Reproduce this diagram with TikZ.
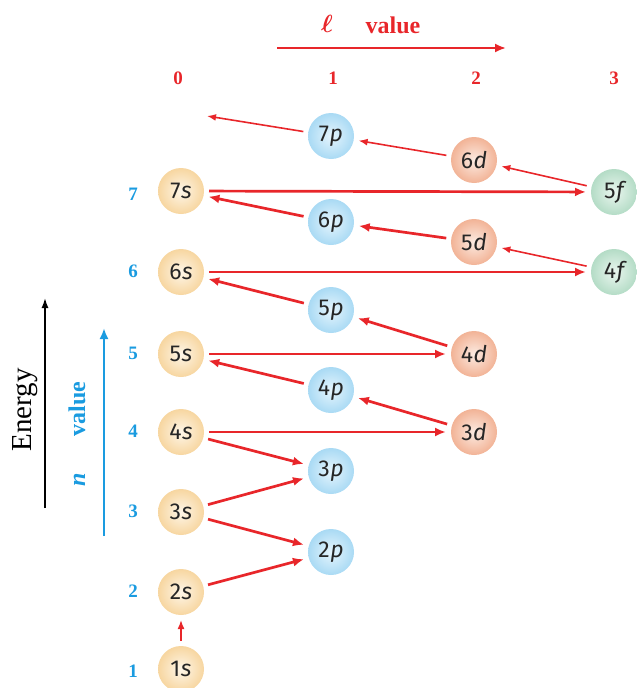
\documentclass[tikz,border=0pt]{standalone}
\usepackage{fontspec}
\setmainfont{Liberation Serif}
\newfontfamily\orbfont{Fira Sans}
\usetikzlibrary{arrows.meta}
\definecolor{lred}{HTML}{E8262A}
\definecolor{nblue}{HTML}{1A9BE0}
\definecolor{sin}{HTML}{FEF6E8}
\definecolor{sout}{HTML}{F7D6A0}
\definecolor{pin}{HTML}{E6F5FD}
\definecolor{pout}{HTML}{A9DAF4}
\definecolor{din}{HTML}{FCEBE2}
\definecolor{dout}{HTML}{F2B396}
\definecolor{fin}{HTML}{EAF6EF}
\definecolor{fout}{HTML}{B4DCC6}
\tikzset{
  orb/.style={circle, minimum size=46pt, inner sep=0pt, outer sep=5pt, font=\orbfont\fontsize{23}{23}\selectfont, text=black!85},
  sorb/.style={orb, inner color=sin, outer color=sout},
  porb/.style={orb, inner color=pin, outer color=pout},
  dorb/.style={orb, inner color=din, outer color=dout},
  forb/.style={orb, inner color=fin, outer color=fout},
  thk/.style={draw=lred, line width=2.7pt, -{Latex[length=11pt,width=9pt]}},
  thn/.style={draw=lred, line width=1.6pt, -{Latex[length=9pt,width=7pt]}},
  lnum/.style={text=lred, font=\bfseries\fontsize{19}{19}\selectfont},
  nnum/.style={text=nblue, font=\bfseries\fontsize{19}{19}\selectfont},
}
\newcommand{\orbl}[2]{#1\kern0.5pt{\itshape #2}}
\begin{document}
\begin{tikzpicture}[x=1pt,y=-1pt]
\useasboundingbox (0,0) rectangle (637,688);
% orbitals
\node[sorb] (s1) at (181,669) {\orbl{1}{s}};
\node[sorb] (s2) at (181,592) {\orbl{2}{s}};
\node[sorb] (s3) at (181,512) {\orbl{3}{s}};
\node[sorb] (s4) at (181,432) {\orbl{4}{s}};
\node[sorb] (s5) at (181,354) {\orbl{5}{s}};
\node[sorb] (s6) at (181,272) {\orbl{6}{s}};
\node[sorb] (s7) at (181,191) {\orbl{7}{s}};
\node[porb] (p2) at (331,552) {\orbl{2}{p}};
\node[porb] (p3) at (331,471) {\orbl{3}{p}};
\node[porb] (p4) at (331,390) {\orbl{4}{p}};
\node[porb] (p5) at (331,310) {\orbl{5}{p}};
\node[porb] (p6) at (331,222) {\orbl{6}{p}};
\node[porb] (p7) at (331,136) {\orbl{7}{p}};
\node[dorb] (d3) at (474,432) {\orbl{3}{d}};
\node[dorb] (d4) at (474,354) {\orbl{4}{d}};
\node[dorb] (d5) at (474,242) {\orbl{5}{d}};
\node[dorb] (d6) at (474,160) {\orbl{6}{d}};
\node[forb] (f4) at (614,272) {\orbl{4}{f}};
\node[forb] (f5) at (614,192) {\orbl{5}{f}};
\coordinate (end) at (207,116);
% filling order arrows
\draw[thn] (s1) -- (s2);
\draw[thk] (s2) -- (p2);
\draw[thk] (s3) -- (p2);
\draw[thk] (s3) -- (p3);
\draw[thk] (s4) -- (p3);
\draw[thk] (s4) -- (d3);
\draw[thk] (d3) -- (p4);
\draw[thk] (p4) -- (s5);
\draw[thk] (s5) -- (d4);
\draw[thk] (d4) -- (p5);
\draw[thk] (p5) -- (s6);
\draw[thk] (s6) -- (f4);
\draw[thn] (f4) -- (d5);
\draw[thk] (d5) -- (p6);
\draw[thk] (p6) -- (s7);
\draw[thk] (s7) -- (f5);
\draw[thn] (f5) -- (d6);
\draw[thn] (d6) -- (p7);
\draw[thn] (p7) -- (end);
% l axis
\node[text=lred, font=\boldmath\fontsize{28}{28}\selectfont] (ell) at (327,24) {$\ell$};
\node[text=lred, font=\bfseries\fontsize{24}{24}\selectfont] (lval) at (393,25) {value};
\coordinate (la) at (277,48);
\coordinate (lb) at (506,48);
\draw[draw=lred, line width=2pt, -{Latex[length=11pt,width=9pt]}] (la) -- (lb);
\node[lnum] (l0) at (178,78) {0};
\node[lnum] (l1) at (333,78) {1};
\node[lnum] (l2) at (476,78) {2};
\node[lnum] (l3) at (614,78) {3};
% n labels
\node[nnum] (n1) at (133,671) {1};
\node[nnum] (n2) at (133,591) {2};
\node[nnum] (n3) at (133,511) {3};
\node[nnum] (n4) at (133,431) {4};
\node[nnum] (n5) at (133,353) {5};
\node[nnum] (n6) at (133,271) {6};
\node[nnum] (n7) at (133,194) {7};
\coordinate (na) at (104,536);
\coordinate (nb) at (104,328);
\draw[draw=nblue, line width=2.2pt, -{Latex[length=11pt,width=9pt]}] (na) -- (nb);
\node[text=nblue, font=\bfseries\fontsize{24}{24}\selectfont, rotate=90] (nval) at (77,434) {\textit{n}\hspace{36pt}value};
% energy
\coordinate (ea) at (45,508);
\coordinate (eb) at (45,298);
\draw[draw=black, line width=1.6pt, -{Latex[length=10pt,width=7pt]}] (ea) -- (eb);
\node[font=\fontsize{29}{29}\selectfont, rotate=90] (energy) at (25,410) {Energy};
\end{tikzpicture}
\end{document}
